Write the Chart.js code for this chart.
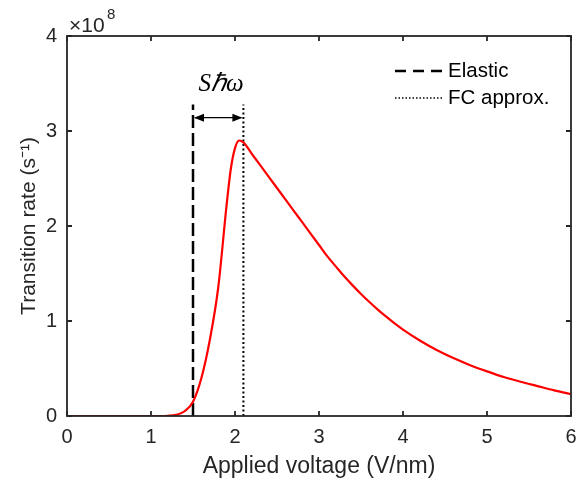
<!DOCTYPE html>
<html>
<head>
<meta charset="utf-8">
<script src="https://cdn.jsdelivr.net/npm/chart.js@4.4.1/dist/chart.umd.min.js"></script>
<style>
  html, body { margin: 0; padding: 0; background: #fff; }
  #wrap { width: 577px; height: 487px; }
</style>
</head>
<body>
<div id="wrap"><canvas id="c" width="577" height="487"></canvas></div>
<script>
// applied voltage (V/nm) and transition rate (x1e8 s^-1)
var voltage = [0, 0.2, 0.4, 0.6, 0.8, 1.0, 1.1, 1.2, 1.3, 1.4, 1.5, 1.6, 1.7, 1.8, 1.9, 1.95, 2.0, 2.05, 2.1,
               2.2, 2.3, 2.4, 2.5, 2.6, 2.7, 2.8, 2.9, 3.0, 3.1, 3.2, 3.3, 3.4, 3.5, 3.6, 3.7, 3.8, 3.9, 4.0,
               4.2, 4.4, 4.6, 4.8, 5.0, 5.2, 5.4, 5.6, 5.8, 6.0];
var rate = [0, 0, 0, 0, 0, 0, 0, 0.002, 0.012, 0.05, 0.15, 0.40, 0.80, 1.35, 2.22, 2.6, 2.82, 2.9, 2.88,
            2.76, 2.64, 2.52, 2.40, 2.28, 2.16, 2.04, 1.92, 1.80, 1.68, 1.575, 1.47, 1.375, 1.285, 1.20, 1.12, 1.045, 0.975, 0.91,
            0.795, 0.695, 0.61, 0.535, 0.47, 0.41, 0.36, 0.315, 0.27, 0.23];
var elasticX = 1.5;
var fcX = 2.1;
var markerTop = 3.28;
var arrowY = 3.14;
var xTicks = [0, 1, 2, 3, 4, 5, 6];
var yTicks = [0, 1, 2, 3, 4];

var points = voltage.map(function(v, i) { return {x: v, y: rate[i]}; });
var axisColor = '#262626';
var font = '"Liberation Sans", Arial, sans-serif';

// box with inward ticks, like the original figure
var boxPlugin = {
  id: 'box',
  afterDraw: function(chart) {
    var ctx = chart.ctx, a = chart.chartArea;
    var xs = chart.scales.x, ys = chart.scales.y;
    ctx.save();
    ctx.strokeStyle = axisColor;
    ctx.lineWidth = 1.8;
    ctx.strokeRect(a.left, a.top, a.right - a.left, a.bottom - a.top);
    ctx.beginPath();
    xTicks.forEach(function(t) {
      var px = xs.getPixelForValue(t);
      ctx.moveTo(px, a.bottom); ctx.lineTo(px, a.bottom - 5);
      ctx.moveTo(px, a.top); ctx.lineTo(px, a.top + 5);
    });
    yTicks.forEach(function(t) {
      var py = ys.getPixelForValue(t);
      ctx.moveTo(a.left, py); ctx.lineTo(a.left + 5, py);
      ctx.moveTo(a.right, py); ctx.lineTo(a.right - 5, py);
    });
    ctx.stroke();

    // exponent label
    ctx.fillStyle = axisColor;
    ctx.textBaseline = 'alphabetic';
    ctx.textAlign = 'left';
    ctx.font = '21px ' + font;
    ctx.fillText('\u00d710', a.left + 2, a.top - 4);
    ctx.font = '15px ' + font;
    ctx.fillText('8', a.left + 40, a.top - 17);

    // legend
    var lx = 395, ly = 71;
    chart.data.datasets.slice(1).forEach(function(ds, i) {
      var y = ly + i * 27;
      ctx.strokeStyle = '#000';
      ctx.lineWidth = i == 0 ? 2.5 : 1.5;
      ctx.setLineDash(i == 0 ? [11, 7] : [1.5, 2]);
      ctx.beginPath();
      ctx.moveTo(lx, y); ctx.lineTo(lx + 47, y);
      ctx.stroke();
      ctx.setLineDash([]);
      ctx.fillStyle = '#000';
      ctx.font = '20.5px ' + font;
      ctx.textBaseline = 'middle';
      ctx.fillText(ds.label, lx + 53, y);
    });

    // double arrow between the two lines
    var x1 = xs.getPixelForValue(elasticX), x2 = xs.getPixelForValue(fcX);
    var ay = ys.getPixelForValue(arrowY);
    ctx.strokeStyle = '#000';
    ctx.fillStyle = '#000';
    ctx.lineWidth = 1.2;
    ctx.beginPath();
    ctx.moveTo(x1 + 2, ay); ctx.lineTo(x2 - 2, ay);
    ctx.stroke();
    ctx.beginPath();
    ctx.moveTo(x1 + 1, ay); ctx.lineTo(x1 + 11, ay - 4); ctx.lineTo(x1 + 11, ay + 4); ctx.closePath();
    ctx.moveTo(x2 - 1, ay); ctx.lineTo(x2 - 11, ay - 4); ctx.lineTo(x2 - 11, ay + 4); ctx.closePath();
    ctx.fill();
    ctx.font = 'italic 25px "Liberation Serif", "Times New Roman", serif';
    ctx.textAlign = 'center';
    ctx.textBaseline = 'alphabetic';
    ctx.fillText('S\u210f\u03c9', (x1 + x2) / 2 + 3, ay - 27);
    ctx.restore();
  }
};

new Chart(document.getElementById('c'), {
  type: 'scatter',
  data: {
    datasets: [
      { label: 'Rate', data: points, showLine: true, borderColor: '#ff0000', borderWidth: 2.2,
        pointRadius: 0, cubicInterpolationMode: 'monotone' },
      { label: 'Elastic', data: [{x: elasticX, y: 0}, {x: elasticX, y: markerTop}], showLine: true,
        borderColor: '#000', borderWidth: 2.5, borderDash: [13, 5], pointRadius: 0 },
      { label: 'FC approx.', data: [{x: fcX, y: 0}, {x: fcX, y: markerTop}], showLine: true,
        borderColor: '#000', borderWidth: 2, borderDash: [2, 2.5], pointRadius: 0 }
    ]
  },
  options: {
    responsive: false,
    animation: false,
    layout: { padding: { top: 36, right: 6, left: 0, bottom: 0 } },
    plugins: { legend: { display: false }, tooltip: { enabled: false } },
    scales: {
      x: {
        type: 'linear', min: 0, max: 6,
        afterBuildTicks: function(s) { s.ticks = xTicks.map(function(v) { return {value: v}; }); },
        afterFit: function(s) { s.height = 71; s.paddingRight = 0; s.paddingLeft = 0; },
        grid: { display: false, drawTicks: false },
        border: { display: false },
        ticks: { color: axisColor, font: { family: font, size: 20 }, padding: 9, maxRotation: 0 },
        title: { display: true, text: 'Applied voltage (V/nm)', color: axisColor,
                 font: { family: font, size: 23 }, padding: { top: 0, bottom: 7 } }
      },
      y: {
        type: 'linear', min: 0, max: 4,
        afterBuildTicks: function(s) { s.ticks = yTicks.map(function(v) { return {value: v}; }); },
        afterFit: function(s) { s.width = 67; s.paddingTop = 0; s.paddingBottom = 0; },
        grid: { display: false, drawTicks: false },
        border: { display: false },
        ticks: { color: axisColor, font: { family: font, size: 20 }, padding: 10 },
        title: { display: true, text: 'Transition rate (s\u207b\u00b9)', color: axisColor,
                 font: { family: font, size: 21 }, padding: { top: 17, bottom: 0 } }
      }
    }
  },
  plugins: [boxPlugin]
});
</script>
</body>
</html>
